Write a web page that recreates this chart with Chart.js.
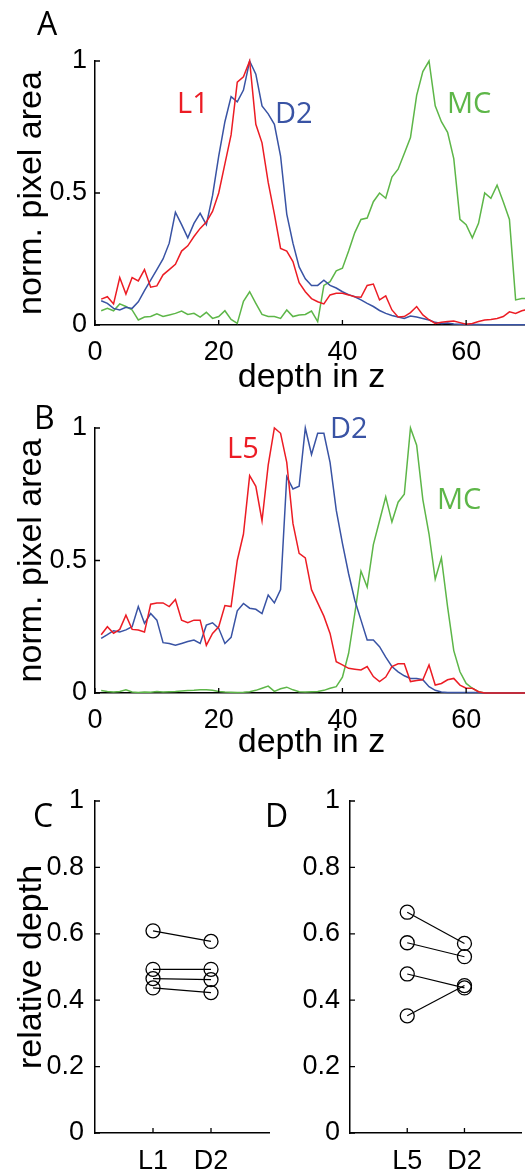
<!DOCTYPE html>
<html lang="en">
<head>
<meta charset="UTF-8">
<title>Depth profiles</title>
<script src="https://cdn.jsdelivr.net/npm/chart.js"></script>
<style>
    body { margin: 0; width: 525px; height: 1171px; overflow: hidden; position: relative; background: #fff; }
    canvas { position: absolute; }
    .tag { position: absolute; font-family: "Open Sans", sans-serif; line-height: 1; white-space: nowrap; }
</style>
</head>
<body>
<canvas id="chartA" width="540" height="400" style="left:0;top:0"></canvas>
<canvas id="chartB" width="540" height="390" style="left:0;top:380px"></canvas>
<canvas id="chartC" width="280" height="401" style="left:0;top:770px"></canvas>
<canvas id="chartD" width="250" height="401" style="left:280px;top:770px"></canvas>

<div class="tag" style="left:37px;top:7px;font-size:32px">A</div>
<div class="tag" style="left:34px;top:401px;font-size:32px">B</div>
<div class="tag" style="left:33px;top:799px;font-size:32px">C</div>
<div class="tag" style="left:265px;top:799px;font-size:32px">D</div>

<div class="tag" style="left:177px;top:87px;font-size:29px;color:#ec1c24">L1</div>
<div class="tag" style="left:275px;top:97px;font-size:29px;color:#3953a4">D2</div>
<div class="tag" style="left:447px;top:87px;font-size:29px;color:#5db648">MC</div>
<div class="tag" style="left:227px;top:432px;font-size:29px;color:#ec1c24">L5</div>
<div class="tag" style="left:330px;top:412px;font-size:29px;color:#3953a4">D2</div>
<div class="tag" style="left:437px;top:483px;font-size:29px;color:#5db648">MC</div>

<script>
// depth slices (z) shared by panels A and B
const depth = [1,2,3,4,5,6,7,8,9,10,11,12,13,14,15,16,17,18,19,20,
    21,22,23,24,25,26,27,28,29,30,31,32,33,34,35,36,37,38,39,40,
    41,42,43,44,45,46,47,48,49,50,51,52,53,54,55,56,57,58,59,60,
    61,62,63,64,65,66,67,68,69,70];

// panel A: normalized pixel area per slice
const aL1 = [0.098,0.107,0.08,0.18,0.117,0.18,0.167,0.21,0.143,0.148,
    0.19,0.21,0.23,0.28,0.30,0.335,0.366,0.39,0.43,0.50,
    0.61,0.72,0.92,0.94,1.0,0.76,0.69,0.54,0.42,0.29,
    0.28,0.24,0.16,0.126,0.10,0.088,0.08,0.114,0.12,0.12,
    0.114,0.107,0.105,0.15,0.155,0.095,0.11,0.057,0.03,0.032,
    0.047,0.07,0.038,0.02,0.006,0.01,0.013,0.015,0.009,0.003,
    0.006,0.013,0.019,0.021,0.025,0.032,0.05,0.044,0.054,0.06];
const aD2 = [0.092,0.082,0.063,0.057,0.067,0.063,0.088,0.13,0.17,0.21,
    0.25,0.31,0.427,0.38,0.33,0.385,0.423,0.38,0.49,0.64,
    0.77,0.865,0.845,0.89,1.0,0.95,0.83,0.80,0.76,0.64,
    0.42,0.31,0.22,0.175,0.15,0.15,0.17,0.15,0.14,0.126,
    0.115,0.107,0.095,0.082,0.07,0.055,0.044,0.036,0.03,0.025,
    0.034,0.03,0.025,0.019,0.01,0.006,0.008,0.004,0.003,0.002,
    0.002,0.002,0.001,0.001,0.001,0.001,0.001,0.001,0.001,0.001];
const aMC = [0.054,0.063,0.054,0.08,0.07,0.057,0.019,0.03,0.032,0.042,
    0.032,0.038,0.044,0.053,0.04,0.044,0.03,0.048,0.025,0.032,
    0.054,0.021,0.006,0.09,0.126,0.082,0.04,0.032,0.032,0.025,
    0.057,0.032,0.038,0.04,0.053,0.013,0.15,0.164,0.205,0.215,
    0.28,0.35,0.40,0.405,0.467,0.50,0.48,0.56,0.59,0.65,
    0.71,0.87,0.96,1.0,0.83,0.77,0.73,0.63,0.40,0.38,
    0.33,0.385,0.50,0.48,0.53,0.467,0.40,0.095,0.10,0.10];

// panel B
const bL5 = [0.22,0.25,0.225,0.24,0.294,0.24,0.238,0.23,0.335,0.34,
    0.34,0.326,0.353,0.275,0.265,0.275,0.275,0.18,0.225,0.25,
    0.33,0.326,0.50,0.60,0.82,0.78,0.65,0.86,1.0,0.98,
    0.87,0.64,0.527,0.51,0.39,0.34,0.29,0.225,0.118,0.106,
    0.093,0.09,0.087,0.10,0.062,0.043,0.06,0.10,0.11,0.11,
    0.043,0.047,0.05,0.106,0.03,0.036,0.05,0.055,0.03,0.018,
    0.018,0.005,0,0,0,0,0,0,0,0];
const bD2 = [0.206,0.22,0.235,0.23,0.238,0.25,0.326,0.263,0.30,0.275,
    0.19,0.187,0.18,0.187,0.194,0.20,0.187,0.256,0.265,0.244,
    0.187,0.21,0.31,0.338,0.32,0.316,0.30,0.37,0.34,0.39,
    0.816,0.77,0.78,1.0,0.90,0.98,0.98,0.87,0.69,0.565,
    0.45,0.35,0.275,0.20,0.20,0.175,0.135,0.10,0.08,0.065,
    0.055,0.055,0.05,0.024,0.01,0.004,0.002,0.002,0.002,0.002,
    0.002,0.002,0,0,0,0,0,0,0,0];
const bMC = [0.009,0.006,0.004,0.006,0.012,0.004,0.002,0.004,0.003,0.006,
    0.004,0.005,0.006,0.008,0.009,0.01,0.012,0.012,0.01,0.006,
    0.004,0.003,0.002,0.003,0.005,0.01,0.018,0.026,0.006,0.016,
    0.022,0.012,0.005,0.004,0.005,0.006,0.01,0.018,0.024,0.06,
    0.15,0.30,0.46,0.40,0.56,0.65,0.74,0.645,0.72,0.75,
    1.0,0.935,0.73,0.60,0.43,0.51,0.325,0.16,0.08,0.036,
    0.018,0.005,0,0,0,0,0,0,0,0];

// panels C and D: relative depth, one entry per animal
const cGroups = ['L1', 'D2'];
const cL1 = [0.609, 0.493, 0.465, 0.437];
const cD2 = [0.577, 0.493, 0.462, 0.423];
const dGroups = ['L5', 'D2'];
const dL5 = [0.665, 0.573, 0.479, 0.353];
const dD2 = [0.571, 0.531, 0.437, 0.444];

const profileTicksX = [0, 20, 40, 60];
const profileTicksY = [0, 0.5, 1];
const pairTicksX = [1, 2];
const pairTicksY = [0, 0.2, 0.4, 0.6, 0.8, 1];

const RED = '#ec1c24', BLUE = '#3953a4', GREEN = '#5db648';
const tickFont = { family: '"Liberation Sans", Arial, sans-serif', size: 27 };
const titleFont = { family: '"Liberation Sans", Arial, sans-serif', size: 34 };

// matlab style ticks pointing into the plot
const inwardTicks = {
    id: 'inwardTicks',
    afterDraw(chart) {
        const ctx = chart.ctx;
        const { left, bottom } = chart.chartArea;
        const xs = chart.scales.x, ys = chart.scales.y;
        ctx.save();
        ctx.strokeStyle = '#000';
        ctx.lineWidth = 1.3;
        ctx.beginPath();
        xs.ticks.forEach(t => {
            const px = xs.getPixelForValue(t.value);
            ctx.moveTo(px, bottom); ctx.lineTo(px, bottom - 5);
        });
        ys.ticks.forEach(t => {
            const py = ys.getPixelForValue(t.value);
            ctx.moveTo(left, py); ctx.lineTo(left + 5, py);
        });
        ctx.stroke();
        ctx.restore();
    }
};

function profile(values, color) {
    return {
        data: depth.map((z, i) => ({ x: z, y: values[i] })),
        borderColor: color, borderWidth: 1.5, pointRadius: 0, tension: 0, clip: false
    };
}

function pairs(left, right) {
    return left.map((v, i) => ({
        data: [{ x: 1, y: v }, { x: 2, y: right[i] }],
        borderColor: '#000', borderWidth: 1.2,
        pointRadius: 7, pointBorderWidth: 1.3,
        pointBorderColor: '#000', pointBackgroundColor: 'rgba(0,0,0,0)', clip: false
    }));
}

function makeChart(id, cfg) {
    return new Chart(document.getElementById(id), {
        type: 'line',
        data: { datasets: cfg.datasets },
        plugins: [inwardTicks],
        options: {
            responsive: false,
            animation: false,
            devicePixelRatio: 1,
            layout: { padding: cfg.padding },
            plugins: { legend: { display: false }, tooltip: { enabled: false } },
            scales: {
                x: {
                    type: 'linear', min: cfg.xMin, max: cfg.xMax,
                    afterFit: s => { s.height = cfg.xHeight; },
                    afterBuildTicks: s => { s.ticks = cfg.xTicks.map(v => ({ value: v })); },
                    grid: { display: false, drawTicks: false },
                    border: { display: true, color: '#000', width: 1.5 },
                    ticks: { color: '#000', font: tickFont, padding: cfg.xPad, maxRotation: 0, autoSkip: false, callback: cfg.xLabel },
                    title: { display: !!cfg.xTitle, text: cfg.xTitle, color: '#000', font: titleFont, padding: { top: 0, bottom: cfg.xTitlePad || 0 } }
                },
                y: {
                    type: 'linear', min: 0, max: 1,
                    afterFit: s => { s.width = cfg.yWidth; },
                    afterBuildTicks: s => { s.ticks = cfg.yTicks.map(v => ({ value: v })); },
                    grid: { display: false, drawTicks: false },
                    border: { display: true, color: '#000', width: 1.5 },
                    ticks: { color: '#000', font: tickFont, padding: cfg.yPad, autoSkip: false, callback: v => String(v) },
                    title: { display: !!cfg.yTitle, text: cfg.yTitle, color: '#000', font: titleFont, padding: { top: 11, bottom: 0 } }
                }
            }
        }
    });
}

makeChart('chartA', {
    datasets: [profile(aL1, RED), profile(aD2, BLUE), profile(aMC, GREEN)],
    padding: { top: 61, right: 12, bottom: 0, left: 0 },
    xMin: 0, xMax: 70, xTicks: profileTicksX, xLabel: v => String(v),
    xHeight: 75, xPad: 11, xTitle: 'depth in z', xTitlePad: 2,
    yWidth: 95, yTicks: profileTicksY, yPad: 8, yTitle: 'norm. pixel area'
});

makeChart('chartB', {
    datasets: [profile(bL5, RED), profile(bD2, BLUE), profile(bMC, GREEN)],
    padding: { top: 48, right: 12, bottom: 0, left: 0 },
    xMin: 0, xMax: 70, xTicks: profileTicksX, xLabel: v => String(v),
    xHeight: 77, xPad: 11, xTitle: 'depth in z', xTitlePad: 7,
    yWidth: 95, yTicks: profileTicksY, yPad: 8, yTitle: 'norm. pixel area'
});

makeChart('chartC', {
    datasets: pairs(cL1, cD2),
    padding: { top: 31, right: 11, bottom: 0, left: 0 },
    xMin: 0, xMax: 3, xTicks: pairTicksX, xLabel: v => cGroups[v - 1],
    xHeight: 38, xPad: 12,
    yWidth: 95, yTicks: pairTicksY, yPad: 11, yTitle: 'relative depth'
});

makeChart('chartD', {
    datasets: pairs(dL5, dD2),
    padding: { top: 31, right: 3, bottom: 0, left: 0 },
    xMin: 0, xMax: 3, xTicks: pairTicksX, xLabel: v => dGroups[v - 1],
    xHeight: 38, xPad: 12,
    yWidth: 70, yTicks: pairTicksY, yPad: 10
});
</script>
</body>
</html>
